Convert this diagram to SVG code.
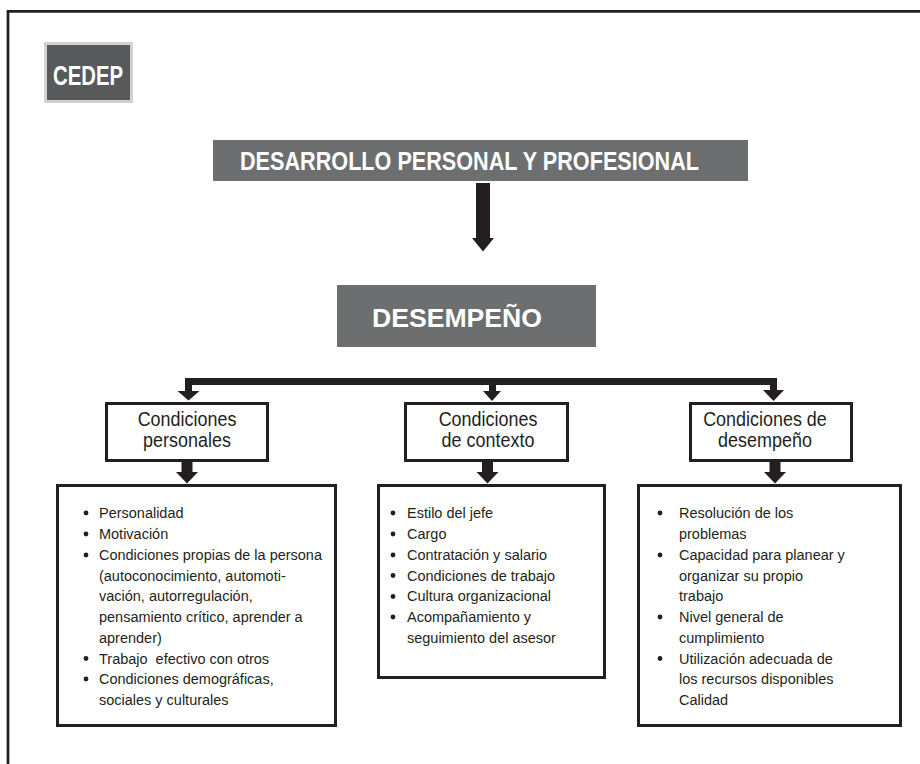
<svg xmlns="http://www.w3.org/2000/svg" width="920" height="764" viewBox="0 0 920 764">
<style>
.title{font-family:"Liberation Sans",Arial,sans-serif;font-weight:bold;fill:#ffffff}
.hdr{font-family:"Liberation Sans",Arial,sans-serif;font-size:19.3px;fill:#231f20;text-anchor:middle}
.body{font-family:"Liberation Sans",Arial,sans-serif;font-size:15.3px;fill:#231f20;white-space:pre}
.box{fill:#ffffff;stroke:#231f20;stroke-width:3}
.dark{fill:#6d6e70}
.ink{fill:#231f20}
.line{fill:none;stroke:#231f20}
</style>
<rect width="920" height="764" fill="#ffffff"/>
<path class="line" d="M8 764 V11.3 H920" stroke-width="2.7"/>

<g id="cedep">
<rect x="45.5" y="43.5" width="86" height="58" fill="#58595b" stroke="#d1d2d4" stroke-width="3"/>
<text class="title" x="53" y="85" font-size="27" textLength="70" lengthAdjust="spacingAndGlyphs">CEDEP</text>
</g>

<g id="desarrollo">
<rect class="dark" x="213" y="140" width="535" height="41"/>
<text class="title" x="240" y="170" font-size="26.3" textLength="459" lengthAdjust="spacingAndGlyphs">DESARROLLO PERSONAL Y PROFESIONAL</text>
</g>

<g id="desempeno">
<rect class="dark" x="337" y="285" width="259" height="62"/>
<text class="title" x="372" y="327" font-size="26" textLength="170" lengthAdjust="spacingAndGlyphs">DESEMPEÑO</text>
</g>

<g id="connectors">
<rect class="ink" x="476" y="183" width="14" height="56"/>
<polygon class="ink" points="472,238 494,238 483,251.5"/>
<path class="line" d="M188.5 393 V381.5 H773.5 V391 M492.5 381.5 V392" stroke-width="7"/>
<polygon class="ink" points="177.5,391 199.5,391 188.5,400.5"/>
<polygon class="ink" points="483,391 501,391 492,401"/>
<polygon class="ink" points="763,390 784,390 773.5,401"/>
<rect class="ink" x="181.5" y="461" width="11" height="12"/>
<polygon class="ink" points="176,472 198,472 187,483.5"/>
<rect class="ink" x="482" y="461" width="11" height="12"/>
<polygon class="ink" points="476.5,472 498.5,472 487.5,483.5"/>
<rect class="ink" x="769.5" y="461" width="11" height="12"/>
<polygon class="ink" points="764,472 786,472 775,483.5"/>
</g>

<g id="cond-personales">
<rect class="box" x="106.5" y="403.5" width="161" height="57"/>
<g transform="translate(187 0) scale(0.93 1)">
<text class="hdr" x="0" y="426">Condiciones</text>
<text class="hdr" x="0" y="447">personales</text>
</g>
</g>

<g id="cond-contexto">
<rect class="box" x="405.5" y="403.5" width="162" height="57"/>
<g transform="translate(488 0) scale(0.93 1)">
<text class="hdr" x="0" y="426">Condiciones</text>
<text class="hdr" x="0" y="447">de contexto</text>
</g>
</g>

<g id="cond-desempeno">
<rect class="box" x="690.5" y="403.5" width="161" height="57"/>
<g transform="translate(765 0) scale(0.93 1)">
<text class="hdr" x="0" y="426">Condiciones de</text>
<text class="hdr" x="0" y="447">desempeño</text>
</g>
</g>

<g id="lista-personales">
<rect class="box" x="57.5" y="485.5" width="278" height="240"/>
<circle class="ink" cx="86" cy="513" r="2.4"/>
<circle class="ink" cx="86" cy="534" r="2.4"/>
<circle class="ink" cx="86" cy="555" r="2.4"/>
<circle class="ink" cx="86" cy="658.5" r="2.4"/>
<circle class="ink" cx="86" cy="679" r="2.4"/>
<g transform="translate(99 0) scale(0.947 1)">
<text class="body" x="0" y="518.5">Personalidad</text>
<text class="body" x="0" y="539.3">Motivación</text>
<text class="body" x="0" y="560">Condiciones propias de la persona</text>
<text class="body" x="0" y="580.8">(autoconocimiento, automoti-</text>
<text class="body" x="0" y="601.5">vación, autorregulación,</text>
<text class="body" x="0" y="622.3">pensamiento crítico, aprender a</text>
<text class="body" x="0" y="643">aprender)</text>
<text class="body" x="0" y="663.8">Trabajo  efectivo con otros</text>
<text class="body" x="0" y="684.5">Condiciones demográficas,</text>
<text class="body" x="0" y="705.3">sociales y culturales</text>
</g>
</g>

<g id="lista-contexto">
<rect class="box" x="378.5" y="485.5" width="226" height="192"/>
<circle class="ink" cx="393" cy="513" r="2.4"/>
<circle class="ink" cx="393" cy="534" r="2.4"/>
<circle class="ink" cx="393" cy="555" r="2.4"/>
<circle class="ink" cx="393" cy="575.5" r="2.4"/>
<circle class="ink" cx="393" cy="596.5" r="2.4"/>
<circle class="ink" cx="393" cy="617" r="2.4"/>
<g transform="translate(407 0) scale(0.947 1)">
<text class="body" x="0" y="518.5">Estilo del jefe</text>
<text class="body" x="0" y="539.3">Cargo</text>
<text class="body" x="0" y="560">Contratación y salario</text>
<text class="body" x="0" y="580.8">Condiciones de trabajo</text>
<text class="body" x="0" y="601.5">Cultura organizacional</text>
<text class="body" x="0" y="622.3">Acompañamiento y</text>
<text class="body" x="0" y="643">seguimiento del asesor</text>
</g>
</g>

<g id="lista-desempeno">
<rect class="box" x="638.5" y="485.5" width="262" height="240"/>
<circle class="ink" cx="660" cy="513" r="2.4"/>
<circle class="ink" cx="660" cy="555" r="2.4"/>
<circle class="ink" cx="660" cy="617" r="2.4"/>
<circle class="ink" cx="660" cy="658.5" r="2.4"/>
<g transform="translate(679 0) scale(0.947 1)">
<text class="body" x="0" y="518.5">Resolución de los</text>
<text class="body" x="0" y="539.3">problemas</text>
<text class="body" x="0" y="560">Capacidad para planear y</text>
<text class="body" x="0" y="580.8">organizar su propio</text>
<text class="body" x="0" y="601.5">trabajo</text>
<text class="body" x="0" y="622.3">Nivel general de</text>
<text class="body" x="0" y="643">cumplimiento</text>
<text class="body" x="0" y="663.8">Utilización adecuada de</text>
<text class="body" x="0" y="684.5">los recursos disponibles</text>
<text class="body" x="0" y="705.3">Calidad</text>
</g>
</g>
</svg>
